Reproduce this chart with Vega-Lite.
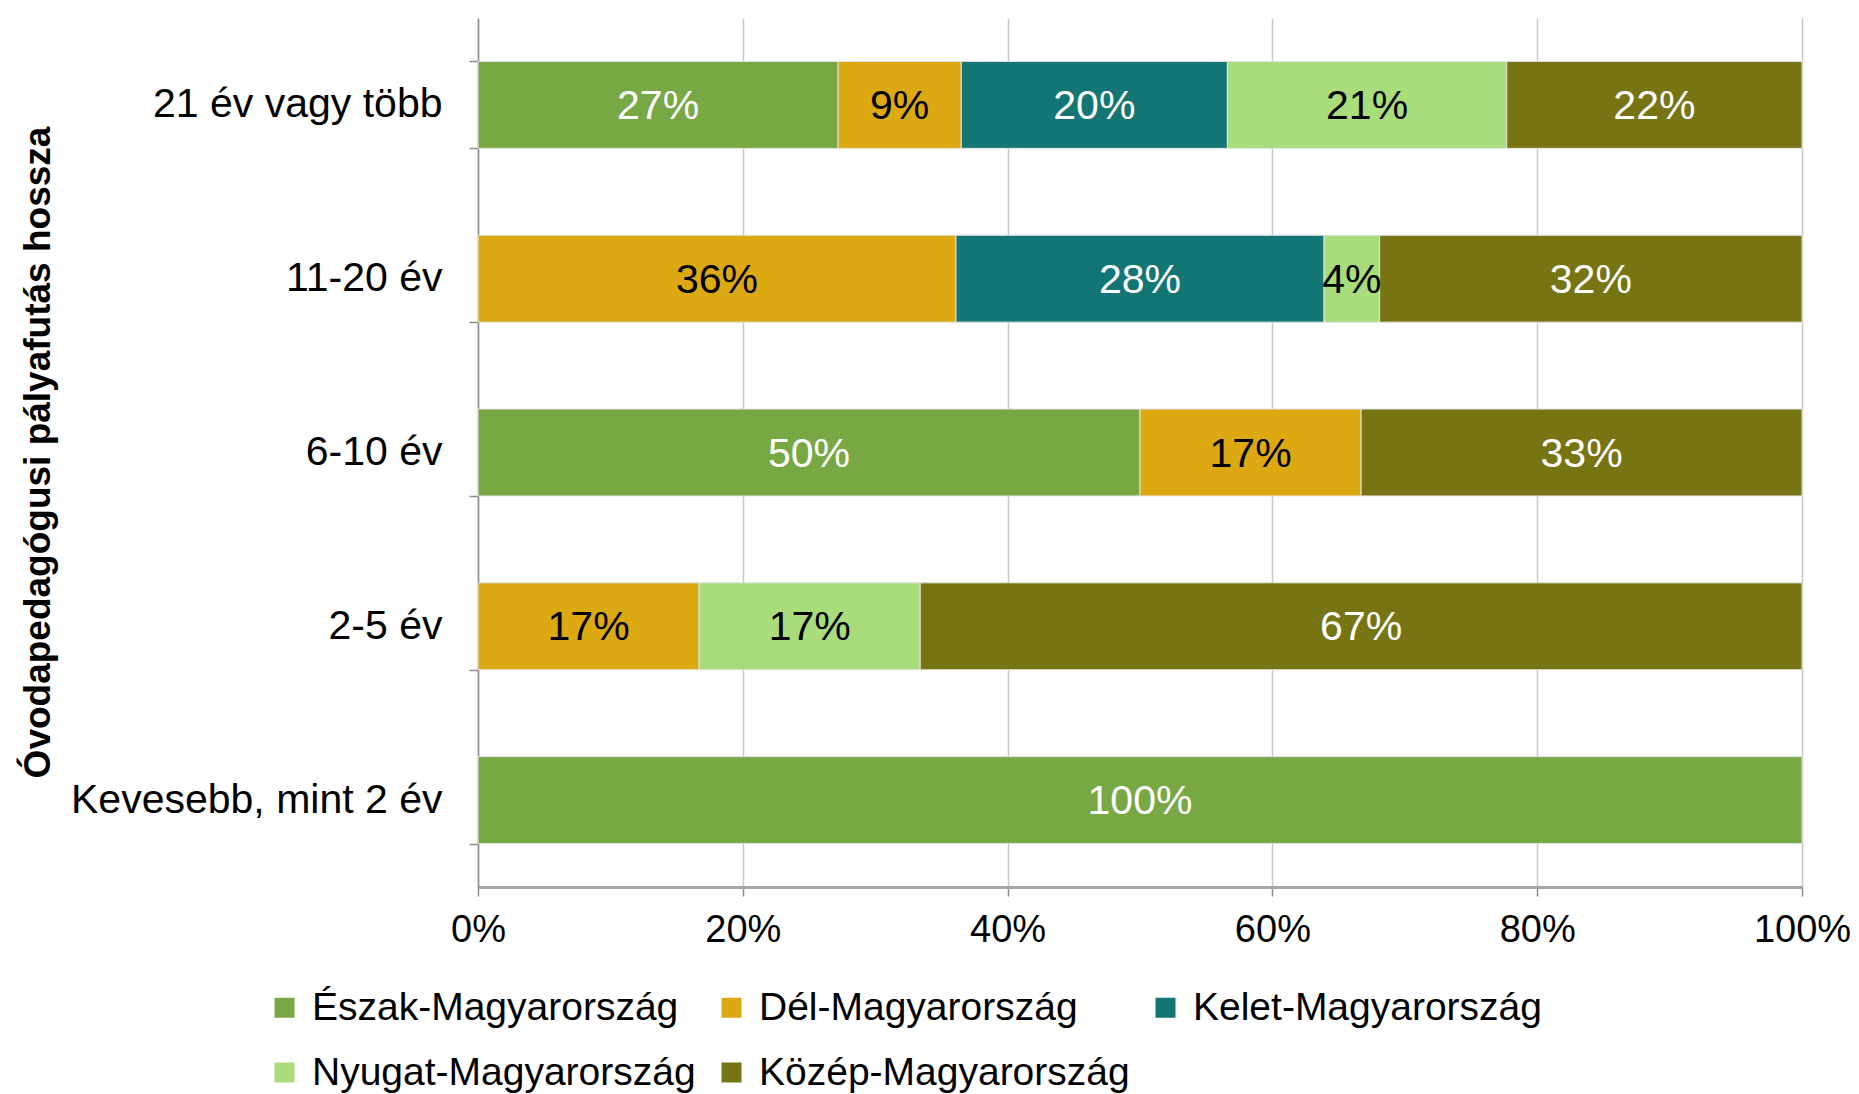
{
  "$schema": "https://vega.github.io/schema/vega-lite/v6.json",
  "autosize": "none",
  "width": 1324,
  "height": 869,
  "padding": {"left": 478, "top": 18, "right": 57, "bottom": 207},
  "background": "#ffffff",
  "config": {
    "font": "Liberation Sans",
    "view": {"stroke": null}
  },
  "data": {
    "values": [
      {"cat": "21 év vagy több", "region": "Észak-Magyarország", "value": 27.2},
      {"cat": "21 év vagy több", "region": "Dél-Magyarország", "value": 9.3},
      {"cat": "21 év vagy több", "region": "Kelet-Magyarország", "value": 20.1},
      {"cat": "21 év vagy több", "region": "Nyugat-Magyarország", "value": 21.1},
      {"cat": "21 év vagy több", "region": "Közép-Magyarország", "value": 22.3},
      {"cat": "11-20 év", "region": "Dél-Magyarország", "value": 36.1},
      {"cat": "11-20 év", "region": "Kelet-Magyarország", "value": 27.8},
      {"cat": "11-20 év", "region": "Nyugat-Magyarország", "value": 4.2},
      {"cat": "11-20 év", "region": "Közép-Magyarország", "value": 31.9},
      {"cat": "6-10 év", "region": "Észak-Magyarország", "value": 50.0},
      {"cat": "6-10 év", "region": "Dél-Magyarország", "value": 16.7},
      {"cat": "6-10 év", "region": "Közép-Magyarország", "value": 33.3},
      {"cat": "2-5 év", "region": "Dél-Magyarország", "value": 16.7},
      {"cat": "2-5 év", "region": "Nyugat-Magyarország", "value": 16.7},
      {"cat": "2-5 év", "region": "Közép-Magyarország", "value": 66.6},
      {"cat": "Kevesebb, mint 2 év", "region": "Észak-Magyarország", "value": 100.0}
    ]
  },
  "transform": [
    {"calculate": "indexof(['Észak-Magyarország','Dél-Magyarország','Kelet-Magyarország','Nyugat-Magyarország','Közép-Magyarország'], datum.region)", "as": "ord"},
    {"stack": "value", "groupby": ["cat"], "sort": [{"field": "ord", "order": "ascending"}], "as": ["x0", "x1"]},
    {"calculate": "(datum.x0 + datum.x1) / 2", "as": "xm"},
    {"calculate": "format(datum.value, '.0f') + '%'", "as": "label"}
  ],
  "encoding": {
    "y": {
      "field": "cat",
      "type": "nominal",
      "sort": ["21 év vagy több", "11-20 év", "6-10 év", "2-5 év", "Kevesebb, mint 2 év"],
      "scale": {"paddingInner": 0.5, "paddingOuter": 0.25},
      "axis": {
        "title": "Óvodapedagógusi pályafutás hossza",
        "titleFont": "Liberation Sans",
        "titleFontSize": 37,
        "titleFontWeight": "bold",
        "titleColor": "#000000",
        "titleX": -440,
        "titleY": 434,
        "titleAngle": -90,
        "titleAlign": "center",
        "titleBaseline": "middle",
        "labelFontSize": 41,
        "labelColor": "#000000",
        "labelPadding": 27,
        "labelLimit": 500,
        "tickBand": "extent",
        "tickSize": 9,
        "tickColor": "#8c8c8c",
        "tickWidth": 1.5,
        "domainColor": "#8c8c8c",
        "domainWidth": 1.5,
        "grid": false
      }
    }
  },
  "layer": [
    {
      "mark": {"type": "bar", "stroke": "#e2e2e2", "strokeWidth": 1},
      "encoding": {
        "x": {
          "field": "x0",
          "type": "quantitative",
          "scale": {"domain": [0, 100], "nice": false},
          "axis": {
            "title": null,
            "values": [0, 20, 40, 60, 80, 100],
            "labelExpr": "datum.value + '%'",
            "labelFontSize": 38,
            "labelColor": "#000000",
            "labelPadding": 15,
            "labelFlush": false,
            "tickSize": 9,
            "tickColor": "#8c8c8c",
            "tickWidth": 1.5,
            "domainColor": "#a6a6a6",
            "domainWidth": 3,
            "grid": true,
            "gridColor": "#c8c8c8",
            "gridWidth": 1.5
          }
        },
        "x2": {"field": "x1"},
        "color": {
          "field": "region",
          "type": "nominal",
          "scale": {
            "domain": ["Észak-Magyarország", "Dél-Magyarország", "Kelet-Magyarország", "Nyugat-Magyarország", "Közép-Magyarország"],
            "range": ["#77a843", "#dca912", "#137674", "#a9dc7a", "#767413"]
          },
          "legend": {
            "title": null,
            "orient": "none",
            "legendX": -213,
            "legendY": 970,
            "direction": "horizontal",
            "columns": 3,
            "columnPadding": 16,
            "rowPadding": 25,
            "symbolType": "square",
            "symbolSize": 400,
            "symbolStrokeWidth": 0,
            "labelFontSize": 39,
            "labelColor": "#000000",
            "labelOffset": 8,
            "labelLimit": 600
          }
        }
      }
    },
    {
      "mark": {"type": "text", "fontSize": 41, "align": "center", "baseline": "middle", "dy": 2},
      "encoding": {
        "x": {"field": "xm", "type": "quantitative"},
        "text": {"field": "label"},
        "color": {
          "condition": {"test": "datum.region === 'Dél-Magyarország' || datum.region === 'Nyugat-Magyarország'", "value": "#000000"},
          "value": "#ffffff"
        }
      }
    }
  ]
}
